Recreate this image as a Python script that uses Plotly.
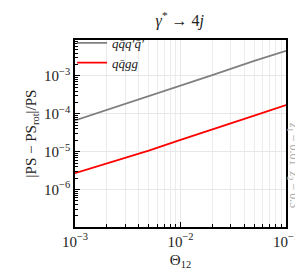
import plotly.graph_objects as go

theta = [1e-3, 2e-3, 5e-3, 1e-2, 2e-2, 5e-2, 1e-1]
qqqq = [6.7e-5, 1.26e-4, 2.9e-4, 5.4e-4, 1.05e-3, 2.5e-3, 4.6e-3]
qqgg = [2.7e-6, 4.9e-6, 1.07e-5, 2.04e-5, 3.8e-5, 8.9e-5, 1.7e-4]
names = ["<i>q</i><i>q̄</i><i>q′</i><i>q̄′</i>", "<i>q</i><i>q̄</i><i>g</i><i>g</i>"]
colors = ["#808080", "#ff0000"]
x_exps = [-3, -2, -1]
y_exps = [-6, -5, -4, -3]

FONT = "Liberation Serif"

xminor = [m * 10.0 ** e for e in range(-3, -1) for m in range(2, 10)]
yminor = [m * 10.0 ** e for e in range(-7, -2) for m in range(2, 10)]

def lab(e):
    return "10<sup>−%d</sup>" % (-e)

fig = go.Figure()
for ys, nm, c in zip([qqqq, qqgg], names, colors):
    fig.add_trace(go.Scatter(x=theta, y=ys, mode="lines", name=nm,
                             line=dict(color=c, width=1.8)))

axis_common = dict(type="log", tickmode="array",
                   ticks="inside", ticklen=5, tickwidth=1, tickcolor="black",
                   showline=True, linecolor="black", linewidth=1.5, mirror=True,
                   gridcolor="#e8e8e8", gridwidth=1, zeroline=False,
                   tickfont=dict(family=FONT, size=15, color="#222"))

fig.update_xaxes(**axis_common, range=[-3, -1],
                 tickvals=[10.0 ** e for e in x_exps], ticktext=[lab(e) for e in x_exps],
                 minor=dict(ticks="inside", ticklen=3, tickcolor="black", showgrid=True,
                            gridcolor="#ececec", tickmode="array", tickvals=xminor),
                 title=dict(text="Θ<sub>12</sub>", font=dict(family=FONT, size=15, color="#222"), standoff=6))
fig.update_yaxes(**axis_common, range=[-6.99, -2.05],
                 tickvals=[10.0 ** e for e in y_exps], ticktext=[lab(e) for e in y_exps],
                 minor=dict(ticks="inside", ticklen=3, tickcolor="black", showgrid=False,
                            tickmode="array", tickvals=yminor),
                 title=dict(text="|PS − PS<sub>rot</sub>|/PS", font=dict(family=FONT, size=15, color="#222"), standoff=4))

fig.update_layout(
    width=303, height=270,
    margin=dict(l=67, r=25, t=32, b=48),
    paper_bgcolor="white", plot_bgcolor="white",
    title=dict(text="<i>γ</i><sup>*</sup> → 4<i>j</i>", x=0.567, xanchor="center", y=0.955, yanchor="middle",
               font=dict(family=FONT, size=16, color="#222")),
    legend=dict(x=-0.014, y=1.065, xanchor="left", yanchor="top", bgcolor="rgba(0,0,0,0)",
                font=dict(family=FONT, size=13, color="#222"), tracegroupgap=0,
                itemwidth=30),
    showlegend=True,
    annotations=[dict(text="<i>z</i><sub>1</sub> = 0.01  <i>z</i><sub>2</sub> = 0.3",
                      xref="paper", yref="paper", x=1.03, y=0.33, textangle=90,
                      showarrow=False, xanchor="center", yanchor="middle",
                      font=dict(family=FONT, size=12, color="#aaaaaa"))],
)

fig.write_html("out.html")
